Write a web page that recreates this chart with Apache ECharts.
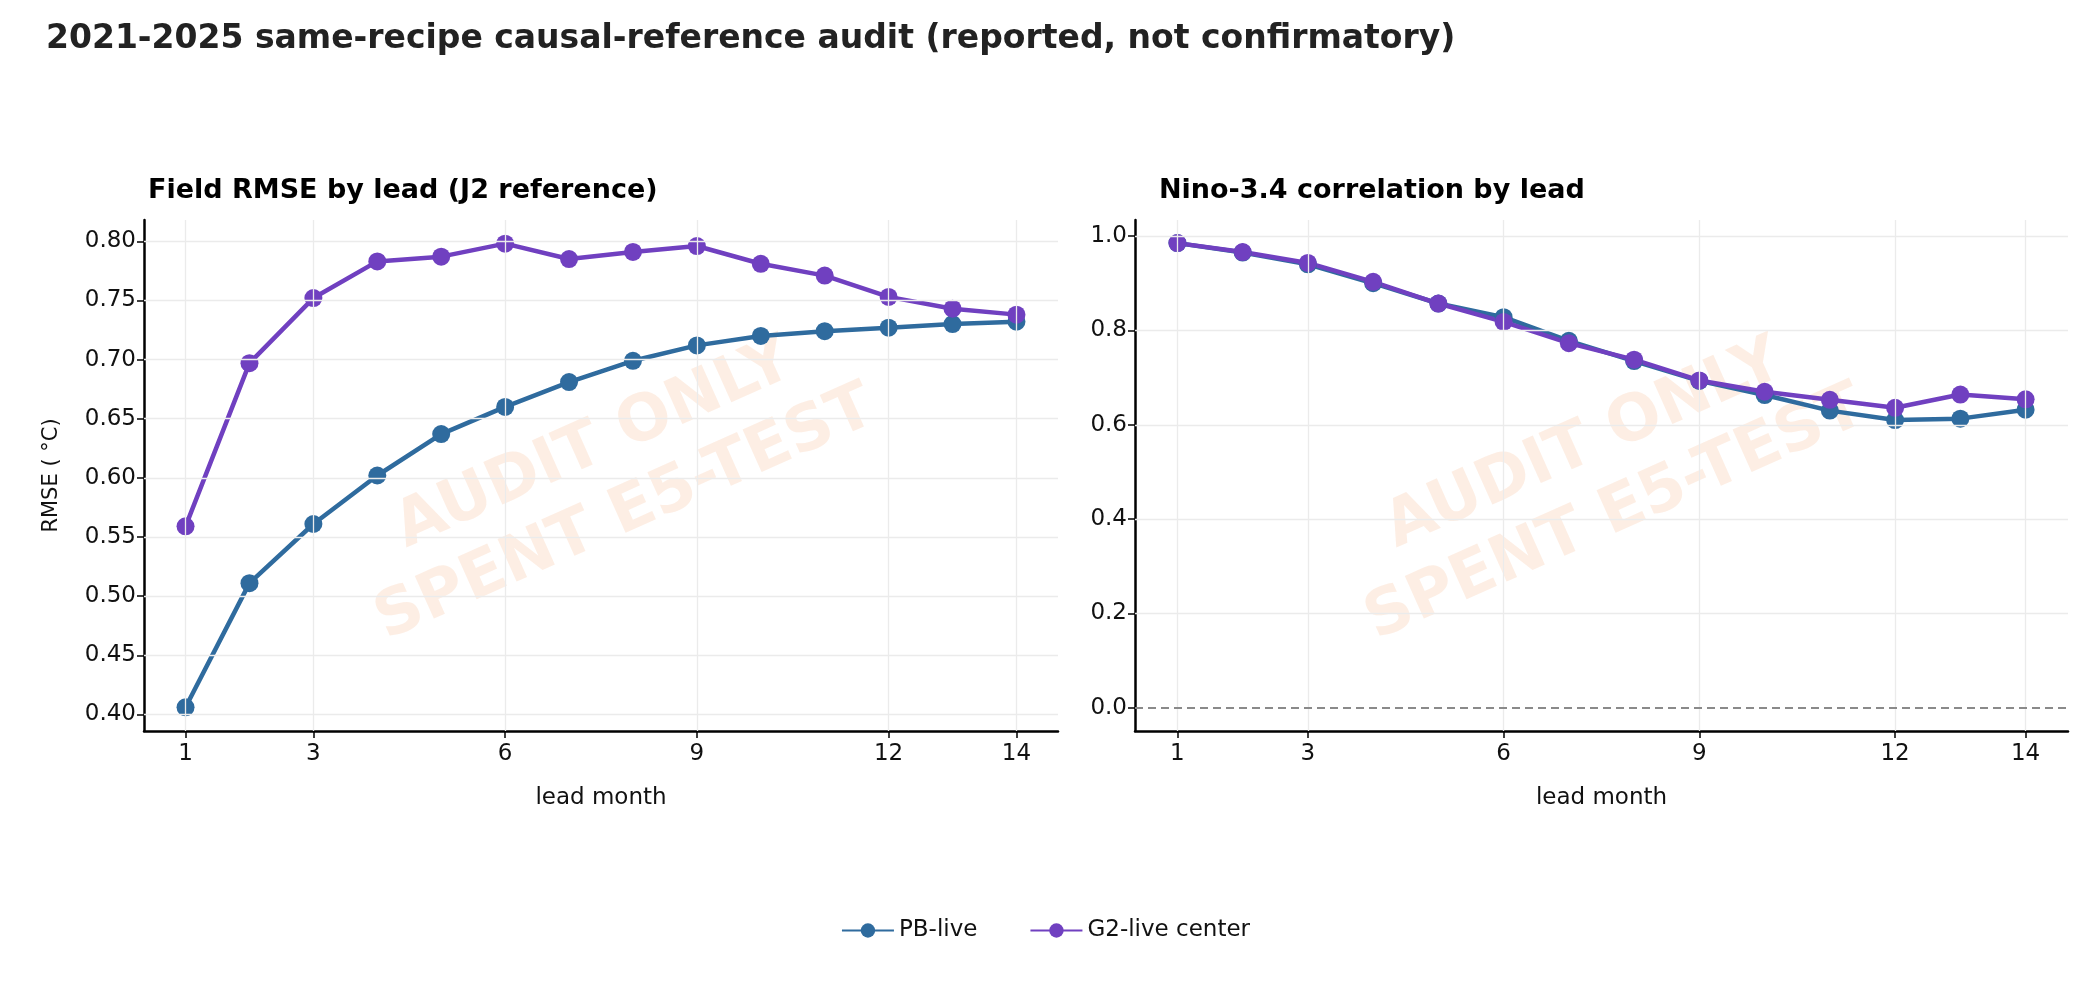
<!DOCTYPE html>
<html><head><meta charset="utf-8">
<script src="https://cdn.jsdelivr.net/npm/echarts@6/dist/echarts.min.js"></script>
<style>html,body{margin:0;padding:0;background:#fff}#c{width:2091px;height:983px}</style>
</head><body><div id="c"></div>
<script>
const leads = [1,2,3,4,5,6,7,8,9,10,11,12,13,14];
const xTicks = [1,3,6,9,12,14];
const rmsePB = [0.406,0.511,0.561,0.602,0.637,0.660,0.681,0.699,0.712,0.720,0.724,0.727,0.730,0.732];
const rmseG2 = [0.559,0.697,0.752,0.783,0.787,0.798,0.785,0.791,0.796,0.781,0.771,0.753,0.743,0.738];
const corrPB = [0.985,0.965,0.940,0.900,0.857,0.828,0.778,0.735,0.693,0.663,0.630,0.610,0.613,0.632];
const corrG2 = [0.985,0.966,0.943,0.903,0.857,0.818,0.773,0.738,0.694,0.670,0.653,0.636,0.664,0.654];
const cPB = '#2f6b9e', cG2 = '#7040c0';
const F = 'DejaVu Sans';
const pairs = a => leads.map((x,i)=>[x,a[i]]);
function xAxis(i){return {type:'value',gridIndex:i,min:0.35,max:14.65,
  axisLine:{onZero:false,lineStyle:{color:'#000',width:2.5}},
  axisTick:{customValues:xTicks,length:7,lineStyle:{color:'#000',width:1.5}},
  axisLabel:{customValues:xTicks,color:'#111',fontSize:23,fontFamily:F,margin:12},
  splitLine:{show:false},name:'lead month',nameLocation:'middle',nameGap:56,
  nameTextStyle:{fontSize:23,fontFamily:F,color:'#111'}};}
function vgrid(i){return {type:'line',xAxisIndex:i,yAxisIndex:i,data:[],silent:true,
  markLine:{symbol:'none',silent:true,label:{show:false},lineStyle:{color:'#ebebeb',width:1.3,type:'solid'},
  data:xTicks.map(v=>({xAxis:v}))}};}
function line(name,data,color,i){return {name,type:'line',xAxisIndex:i,yAxisIndex:i,data:pairs(data),
  symbol:'circle',symbolSize:18,lineStyle:{color,width:4.5},itemStyle:{color,borderWidth:0},z:3};}
const wm = (x)=>({type:'text',x:x,y:480,rotation:0.42,z:0,silent:true,
  style:{text:'AUDIT ONLY\nSPENT E5-TEST',font:'bold 64px "DejaVu Sans"',fill:'rgba(240,150,90,0.16)',
  align:'center',verticalAlign:'middle',lineHeight:76}});
const chart = echarts.init(document.getElementById('c'));
chart.setOption({
  animation:false,
  title:[{text:'2021-2025 same-recipe causal-reference audit (reported, not confirmatory)',left:41,top:18,
    textStyle:{fontSize:33,fontWeight:'bold',fontFamily:F,color:'#222'}},
   {text:'Field RMSE by lead (J2 reference)',left:143,top:172,textStyle:{fontSize:27,fontWeight:'bold',fontFamily:F,color:'#000'}},
   {text:'Nino-3.4 correlation by lead',left:1154,top:172,textStyle:{fontSize:27,fontWeight:'bold',fontFamily:F,color:'#000'}}],
  legend:{bottom:36,left:'center',itemWidth:52,itemHeight:18,itemGap:52,
    textStyle:{fontSize:23,fontFamily:F,color:'#111'},data:['PB-live','G2-live center']},
  grid:[{left:144,right:2091-1058,top:220,bottom:983-731},{left:1135,right:2091-2068,top:220,bottom:983-731}],
  xAxis:[xAxis(0),xAxis(1)],
  yAxis:[{type:'value',gridIndex:0,min:0.386,max:0.818,
     axisLabel:{customValues:[0.4,0.45,0.5,0.55,0.6,0.65,0.7,0.75,0.8],formatter:v=>v.toFixed(2),fontSize:23,fontFamily:F,color:'#111'},
     axisTick:{customValues:[0.4,0.45,0.5,0.55,0.6,0.65,0.7,0.75,0.8],length:7,lineStyle:{color:'#000',width:1.5}},
     axisLine:{show:true,onZero:false,lineStyle:{color:'#000',width:2.5}},
     splitLine:{show:false},name:'RMSE ( °C)',nameLocation:'middle',nameGap:82,
     nameTextStyle:{fontSize:21,fontFamily:F,color:'#111'}},
    {type:'value',gridIndex:1,min:-0.049,max:1.034,
     axisLabel:{customValues:[0,0.2,0.4,0.6,0.8,1.0],formatter:v=>v.toFixed(1),fontSize:23,fontFamily:F,color:'#111'},
     axisTick:{customValues:[0,0.2,0.4,0.6,0.8,1.0],length:7,lineStyle:{color:'#000',width:1.5}},
     axisLine:{show:true,onZero:false,lineStyle:{color:'#000',width:2.5}},splitLine:{show:false}}],
  graphic:[wm(610),wm(1600)],
  series:[vgrid(0),vgrid(1),
    {type:'line',xAxisIndex:0,yAxisIndex:0,data:[],silent:true,markLine:{symbol:'none',silent:true,label:{show:false},
      lineStyle:{color:'#ebebeb',width:1.3,type:'solid'},data:[0.4,0.45,0.5,0.55,0.6,0.65,0.7,0.75,0.8].map(v=>({yAxis:v}))}},
    {type:'line',xAxisIndex:1,yAxisIndex:1,data:[],silent:true,markLine:{symbol:'none',silent:true,label:{show:false},
      lineStyle:{color:'#ebebeb',width:1.3,type:'solid'},data:[0.2,0.4,0.6,0.8,1.0].map(v=>({yAxis:v}))}},
    {type:'line',xAxisIndex:1,yAxisIndex:1,data:[],silent:true,markLine:{symbol:'none',silent:true,label:{show:false},
      lineStyle:{color:'#8a8a8a',width:2,type:[8,5]},data:[{yAxis:0}]}},
    line('PB-live',rmsePB,cPB,0),line('G2-live center',rmseG2,cG2,0),
    line('PB-live',corrPB,cPB,1),line('G2-live center',corrG2,cG2,1)]
});
</script></body></html>
